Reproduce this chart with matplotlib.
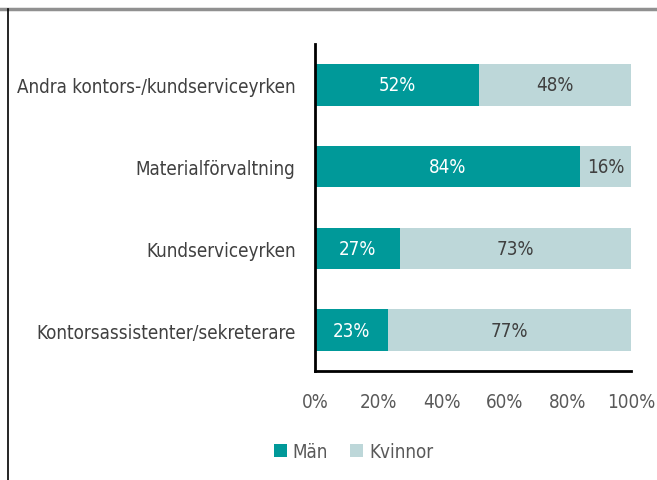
import matplotlib.pyplot as plt
from matplotlib.lines import Line2D

categories = ['Kontorsassistenter/sekreterare', 'Kundserviceyrken',
              'Materialförvaltning', 'Andra kontors-/kundserviceyrken']
man = [23, 27, 84, 52]
kvinnor = [77, 73, 16, 48]
xticks = [0, 20, 40, 60, 80, 100]

plt.rcParams['font.family'] = ['DejaVu Sans']
plt.rcParams['font.stretch'] = 'condensed'

teal = '#009999'
light = '#bdd7d9'

fig = plt.figure(figsize=(6.57, 4.81), dpi=100)
ax = fig.add_axes([0.4795, 0.2266, 0.4810, 0.6798])

y = range(len(categories))
b1 = ax.barh(y, man, height=0.51, color=teal, label='Män')
b2 = ax.barh(y, kvinnor, left=man, height=0.51, color=light, label='Kvinnor')

for i in y:
    ax.text(man[i] / 2, i, f'{man[i]}%', ha='center', va='center',
            color='white', fontsize=13.5)
    ax.text(man[i] + kvinnor[i] / 2, i, f'{kvinnor[i]}%', ha='center',
            va='center', color='#404040', fontsize=13.5)

ax.set_xlim(0, 100)
ax.set_ylim(-0.5, 3.5)
ax.set_yticks(list(y))
ax.set_yticklabels(categories, fontsize=13.5, color='#404040')
ax.set_xticks(xticks)
ax.set_xticklabels([f'{t}%' for t in xticks], fontsize=13.5, color='#595959')
ax.tick_params(axis='x', length=0, pad=15)
ax.tick_params(axis='y', length=0, pad=14)
for s in ['top', 'right']:
    ax.spines[s].set_visible(False)
ax.spines['left'].set_linewidth(2)
ax.spines['bottom'].set_linewidth(2)

leg = fig.legend(handles=[b1, b2], loc='center', bbox_to_anchor=(0.538, 0.06),
                 ncol=2, frameon=False, fontsize=13.5, handlelength=0.7,
                 handleheight=0.7, handletextpad=0.3, columnspacing=1.2)
for t in leg.get_texts():
    t.set_color('#595959')

# outer frame (top and left edges)
fig.add_artist(Line2D([0, 1], [0.979, 0.979], color='#909090', lw=2.5))
fig.add_artist(Line2D([0.0115, 0.0115], [0, 0.979], color='black', lw=1.2))

fig.savefig('out.png', dpi=100)
